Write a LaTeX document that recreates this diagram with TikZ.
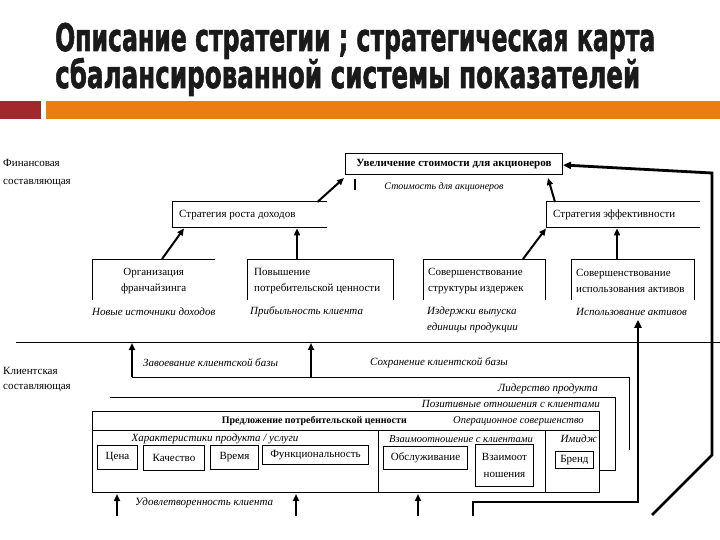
\documentclass[tikz,border=0pt]{standalone}
\usepackage{fontspec}
\usepackage{graphicx}
\setmainfont{Liberation Serif}
\newfontfamily\titlefont{DejaVu Sans}[FakeBold=2]
\usetikzlibrary{arrows.meta}
\definecolor{barred}{HTML}{A3282E}
\definecolor{barorange}{HTML}{EC7D12}
\definecolor{titlecol}{HTML}{1A1A1A}
\newcommand\myfs{\fontsize{11}{16}\selectfont}
\newcommand\smfs{\fontsize{10}{16}\selectfont}
\begin{document}
\begin{tikzpicture}[x=1pt,y=-1pt,
  lbl/.style={inner sep=0pt, font=\myfs},
  itl/.style={inner sep=0pt, font=\myfs\itshape},
  bx/.style 2 args={rectangle, minimum width=#1, minimum height=#2, anchor=north west, inner sep=0pt},
  ln/.style={line width=1pt},
  arr/.style={line width=2pt, -{Triangle[length=7pt,width=6pt]}},
  fbarr/.style={line width=2.8pt, -{Triangle[length=8pt,width=7pt]}}]
\path[use as bounding box] (0,0) rectangle (720,540);

% ---- title ----
\node[anchor=base west, inner sep=0pt] (t1) at (55,51)
  {\color{titlecol}\resizebox{600pt}{\height}{\titlefont\bfseries\fontsize{38}{38}\selectfont Описание стратегии ; стратегическая карта}};
\node[anchor=base west, inner sep=0pt] (t2) at (55,88)
  {\color{titlecol}\resizebox{585pt}{\height}{\titlefont\bfseries\fontsize{38}{38}\selectfont сбалансированной системы показателей}};
\fill[barred] (0,101) rectangle (41,119);
\fill[barorange] (46,101) rectangle (720,119);

% ---- left labels ----
\node[lbl, anchor=west, align=left, font=\fontsize{11}{18}\selectfont] (fin) at (3,173) {Финансовая\\составляющая};
\node[lbl, anchor=west, align=left, font=\fontsize{11}{15}\selectfont] (kli) at (3,380) {Клиентская\\составляющая};

% ---- financial level ----
\node[bx={217pt}{21pt}, draw, ln, font=\myfs\bfseries] (top) at (345,153) {Увеличение стоимости для акционеров};
\coordinate (cur1) at (355,179);
\draw[line width=2pt] (cur1) -- ++(0,11);
\node[itl, font=\smfs\itshape] (stoim) at (444,187) {Стоимость для акционеров};

\node[bx={155pt}{25pt}] (srd) at (172,202) {};
\draw[ln] (srd.north east) -- (srd.north west) -- (srd.south west) -- (srd.south east);
\node[lbl, anchor=west] (srdt) at ([xshift=7pt]srd.west) {Стратегия роста доходов};

\node[bx={154pt}{25pt}] (sef) at (546,202) {};
\draw[ln] (sef.north east) -- (sef.north west) -- (sef.south west) -- (sef.south east);
\node[lbl, anchor=west] (seft) at ([xshift=7pt]sef.west) {Стратегия эффективности};

\node[bx={123pt}{41pt}] (org) at (92,259) {};
\draw[ln] (org.south west) -- (org.north west) -- (org.north east);
\node[lbl, align=center] (orgt) at ([yshift=-1pt]org.center) {Организация\\франчайзинга};

\node[bx={146pt}{41pt}] (pov) at (247,259) {};
\draw[ln] (pov.south west) -- (pov.north west) -- (pov.north east) -- (pov.south east);
\node[lbl, anchor=west, align=left] (povt) at ([xshift=7pt,yshift=-1pt]pov.west) {Повышение\\потребительской ценности};

\node[bx={122pt}{41pt}] (sso) at (423,259) {};
\draw[ln] (sso.south west) -- (sso.north west) -- (sso.north east) -- (sso.south east);
\node[lbl, anchor=west, align=left] (ssot) at ([xshift=5pt,yshift=-1pt]sso.west) {Совершенствование\\структуры издержек};

\node[bx={123pt}{41pt}] (sia) at (571,259) {};
\draw[ln] (sia.south west) -- (sia.north west) -- (sia.north east) -- (sia.south east);
\node[lbl, anchor=west, align=left] (siat) at ([xshift=5pt,yshift=-1pt]sia.west) {Совершенствование\\использования активов};

\node[itl, anchor=west] (nid) at (92,312) {Новые источники доходов};
\node[itl, anchor=west] (pk) at (250,312) {Прибыльность клиента};
\node[itl, anchor=west, align=left] (ivp) at (427,320) {Издержки выпуска\\единицы продукции};
\node[itl, anchor=west] (iua) at (576,312) {Использование активов};

% arrows financial
\draw[arr] ([xshift=-10pt]srd.north east) -- ([shift={(-1pt,-3pt)}]top.south west);
\draw[arr] ([xshift=9pt]sef.north west) -- ([shift={(-15pt,-3pt)}]top.south east);
\draw[arr] ([xshift=70pt]org.north west) -- ([shift={(12pt,-1pt)}]srd.south west);
\draw[arr] ([xshift=50pt]pov.north west) -- ([shift={(125pt,-1pt)}]srd.south west);
\draw[arr] ([xshift=100pt]sso.north west) -- ([shift={(0pt,-1pt)}]sef.south west);
\draw[arr] ([xshift=46pt]sia.north west) -- ([shift={(71pt,-1pt)}]sef.south west);

% ---- customer level ----
\coordinate (l1a) at (16,342);
\coordinate (l1b) at (720,342);
\draw[ln] (l1a) -- (l1b);
\coordinate (lp1) at (132,377);
\coordinate (lp2) at (629,377);
\coordinate (lp3) at (629,450);
\draw[ln] (lp1) -- (lp2) -- (lp3);
\coordinate (a2) at (311,377);
\draw[arr] (lp1) -- ([yshift=-1pt]lp1 |- l1a);
\draw[arr] (a2) -- ([yshift=-1pt]a2 |- l1a);
\node[itl, anchor=west] (zkb) at (143,363) {Завоевание клиентской базы};
\node[itl, anchor=west] (skb) at (370,363) {Сохранение клиентской базы};
\node[itl, anchor=east] (lid) at (598,389) {Лидерство продукта};

\coordinate (po1) at (110,397);
\coordinate (po2) at (615,397);
\coordinate (po3) at (615,470);
\coordinate (po4) at (600,470);
\draw[ln] (po1) -- (po2) -- (po3) -- (po4);
\node[itl, anchor=east] (poz) at (600,404) {Позитивные отношения с клиентами};

\node[bx={507pt}{81pt}, draw, ln] (vp) at (92,411) {};
\coordinate (r1) at (92,430);
\draw[ln] (r1) -- (r1 -| vp.east);
\coordinate (d1) at (378,430);
\coordinate (d2) at (545,430);
\draw[ln] (d1) -- (d1 |- vp.south);
\draw[ln] (d2) -- (d2 |- vp.south);
\node[lbl, anchor=east, font=\smfs\bfseries] (vpt) at (407,421) {Предложение потребительской ценности};
\node[itl, anchor=west, font=\fontsize{10.5}{16}\selectfont\itshape] (ops) at (453,421) {Операционное совершенство};
\node[itl] (hpu) at (215,439) {Характеристики продукта / услуги};
\node[itl, font=\fontsize{10.5}{16}\selectfont\itshape] (vsk) at (461,439) {Взаимоотношение с клиентами};
\node[itl, anchor=east] (imi) at (597,439) {Имидж};

\node[bx={40pt}{24pt}, draw, ln, font=\myfs] (cena) at (97,445) {Цена};
\node[bx={61pt}{25pt}, draw, ln, font=\myfs] (kach) at (143,445) {Качество};
\node[bx={48pt}{24pt}, draw, ln, font=\myfs] (vrem) at (210,445) {Время};
\node[bx={106pt}{19pt}, draw, ln, font=\myfs] (func) at (262,445) {Функциональность};
\node[bx={84pt}{23pt}, draw, ln, font=\myfs] (obsl) at (383,446) {Обслуживание};
\node[bx={58pt}{42pt}, draw, ln, font=\fontsize{11}{17}\selectfont, align=center] (vzai) at (475,444) {Взаимоот\\ношения};
\node[bx={38pt}{17pt}, draw, ln, font=\myfs] (brend) at (555,451) {Бренд};

\node[itl, anchor=west] (udk) at (135,503) {Удовлетворенность клиента};
\coordinate (b1) at (117,516);
\coordinate (b2) at (296,516);
\coordinate (b3) at (418,516);
\draw[arr] (b1) -- ([yshift=-1pt]b1 |- vp.south);
\draw[arr] (b2) -- ([yshift=-1pt]b2 |- vp.south);
\draw[arr] (b3) -- ([yshift=-1pt]b3 |- vp.south);

% ---- feedback paths ----
\coordinate (f1) at (652,515);
\coordinate (f2) at (712,455);
\coordinate (f3) at (712,173);
\draw[fbarr, line join=miter] (f1) -- (f2) -- (f3) -- ([yshift=-1pt]top.east);
\coordinate (g1) at (473,516);
\coordinate (g2) at (638,502);
\draw[fbarr, line join=miter, shorten >=4pt] (g1) |- (g2) -- (g2 |- iua.south);
\end{tikzpicture}
\end{document}
